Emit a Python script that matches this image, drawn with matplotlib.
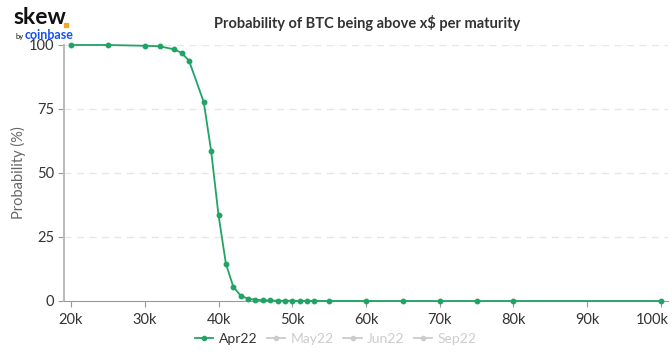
import matplotlib.pyplot as plt
import matplotlib.transforms as mtransforms
from matplotlib.lines import Line2D

plt.rcParams['font.family'] = ['Lato', 'DejaVu Sans']

# strikes (k$) and probability (%) for Apr22
strikes = [20, 25, 30, 32, 34, 35, 36, 38, 39, 40, 41, 42, 43, 44, 45, 46, 47, 48,
           49, 50, 51, 52, 53, 55, 60, 65, 70, 75, 80, 100]
prob_apr22 = [100, 100, 99.7, 99.5, 98.3, 96.9, 93.9, 77.7, 58.6, 33.6, 14.6, 5.6,
              2.1, 0.9, 0.5, 0.3, 0.2, 0.1, 0.1, 0.1, 0.05, 0.05, 0.05, 0.02, 0.01,
              0, 0, 0, 0, 0]
maturities = ['Apr22', 'May22', 'Jun22', 'Sep22']
xticks = [20, 30, 40, 50, 60, 70, 80, 90, 100]
yticks = [0, 25, 50, 75, 100]

green = '#21a366'
grey_txt = '#333333'

fig = plt.figure(figsize=(6.72, 3.54), dpi=100)
ax = fig.add_axes([64 / 672, 1 - 301 / 354, 604 / 672, 256 / 354])

ax.plot(strikes, prob_apr22, color=green, lw=1.3, marker='o', ms=3.2,
        clip_on=False, zorder=3)

ax.set_xlim(19.05, 100.95)
ax.set_ylim(0, 100)
ax.set_xticks(xticks)
ax.set_xticklabels([f'{t}k' for t in xticks])
ax.set_yticks(yticks)
ax.tick_params(axis='both', colors='#999999', labelcolor=grey_txt, labelsize=10.5, length=4)
ax.tick_params(axis='x', pad=5)
ax.tick_params(axis='y', pad=3)

# last label pulled inside like the reference
last = ax.get_xticklabels()[-1]
last.set_transform(last.get_transform() + mtransforms.ScaledTranslation(-9 / 100, 0, fig.dpi_scale_trans))

for s in ['top', 'right']:
    ax.spines[s].set_visible(False)
ax.spines['left'].set_color('#bbbbbb')
ax.spines['left'].set_linewidth(1.5)
ax.spines['bottom'].set_color('#999999')

for y in yticks[1:]:
    ax.axhline(y, color='#e6e6e6', lw=1, ls=(0, (5, 4)), zorder=0)

ax.set_ylabel('Probability (%)', color='#666666', fontsize=10.5, labelpad=2)

fig.text(367 / 672, 1 - 23 / 354, 'Probability of BTC being above x$ per maturity',
         ha='center', va='center', fontsize=10.5, fontweight='bold', color=grey_txt)

# logo
fig.text(13 / 672, 1 - 18 / 354, 'skew', fontsize=16.5, fontweight='bold', color='#111111',
         ha='left', va='center')
fig.add_artist(Line2D([66 / 672], [1 - 25 / 354], transform=fig.transFigure,
                      marker='s', ms=3.2, color='#f5a623', lw=0))
fig.text(15 / 672, 1 - 36 / 354, 'by', fontsize=5.5, color='#111111', ha='left', va='center')
fig.text(25 / 672, 1 - 35 / 354, 'coinbase', fontsize=9, fontweight='bold', color='#1652f0',
         ha='left', va='center')

# legend
handles = []
for i, m in enumerate(maturities):
    c = green if i == 0 else '#cccccc'
    handles.append(Line2D([0], [0], color=c, marker='o', ms=3, lw=1.3))
leg = fig.legend(handles, maturities, loc='center', bbox_to_anchor=(0.5, 1 - 339 / 354),
                 ncol=4, frameon=False, fontsize=10, handlelength=1.3, handletextpad=0.4,
                 columnspacing=0.7)
for i, t in enumerate(leg.get_texts()):
    t.set_color(grey_txt if i == 0 else '#cccccc')

fig.savefig('out.png', dpi=100)
